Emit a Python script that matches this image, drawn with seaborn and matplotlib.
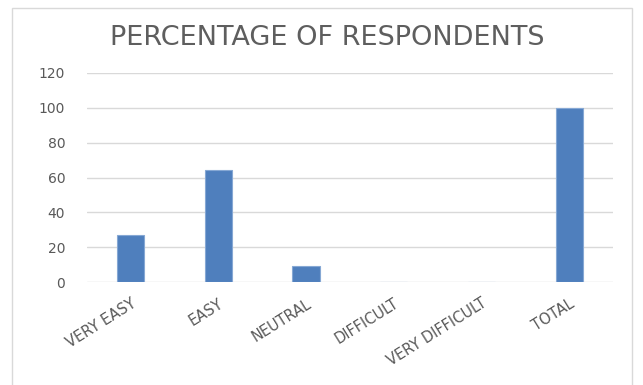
import matplotlib
matplotlib.use("Agg")
import matplotlib.pyplot as plt
from matplotlib.patches import Rectangle
import seaborn as sns
import pandas as pd

categories = ["VERY EASY", "EASY", "NEUTRAL", "DIFFICULT", "VERY DIFFICULT", "TOTAL"]
percentages = [26.7, 64.4, 8.9, 0, 0, 100]
y_ticks = [0, 20, 40, 60, 80, 100, 120]
title = "PERCENTAGE OF RESPONDENTS"

sns.set_theme(style="white")
plt.rcParams["font.family"] = ["DejaVu Sans"]

W, H = 643, 385
fig = plt.figure(figsize=(W / 100, H / 100), dpi=100)
fig.patch.set_facecolor("white")

# outer chart frame
fig.patches.append(Rectangle((12 / W, -0.02), 620 / W, 1.02 - 8 / H,
                             transform=fig.transFigure, fill=False,
                             edgecolor="#d9d9d9", linewidth=1.0))

left, right, bottom, top = 86.7, 613, 282, 73
ax = fig.add_axes([left / W, 1 - bottom / H, (right - left) / W, (bottom - top) / H])

df = pd.DataFrame({"category": categories, "pct": percentages})
sns.barplot(data=df, x="category", y="pct", ax=ax, width=0.31,
            color="#4f7fbd", edgecolor="#86a8d4", linewidth=0.8, saturation=1)

ax.set_xlim(-0.5, len(categories) - 0.5)
ax.set_ylim(0, 120)
ax.set_yticks(y_ticks)
ax.yaxis.grid(True, color="#d9d9d9", linewidth=1.0)
ax.set_axisbelow(True)
for s in ax.spines.values():
    s.set_visible(False)
ax.set_xlabel("")
ax.set_ylabel("")
ax.tick_params(axis="y", length=0, pad=15.5, labelsize=10, labelcolor="#595959")
ax.tick_params(axis="x", length=0, pad=10, labelsize=10.5, labelcolor="#595959")
plt.setp(ax.get_xticklabels(), rotation=32, ha="right", rotation_mode="anchor")

fig.text(327.5 / W, 1 - 38 / H, title, ha="center", va="center",
         fontsize=19.5, color="#5e5e5e")

fig.savefig("out.png", dpi=100, facecolor="white")
